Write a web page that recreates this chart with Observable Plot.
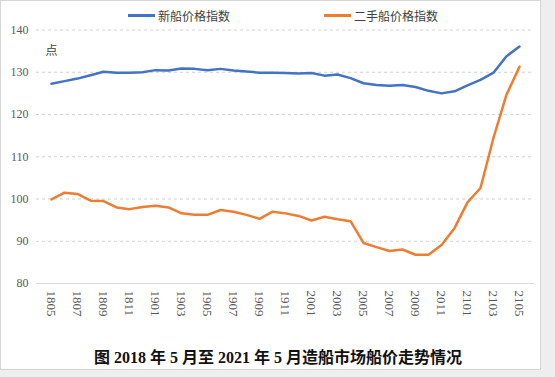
<!DOCTYPE html>
<html>
<head>
<meta charset="utf-8">
<script src="https://cdn.jsdelivr.net/npm/d3@7"></script>
<script src="https://cdn.jsdelivr.net/npm/@observablehq/plot@0.6"></script>
<style>
  html, body { margin: 0; padding: 0; background: #eeeeee; }
  #wrap { position: relative; width: 555px; height: 377px; background: #eeeeee; overflow: hidden; }
  #panel { position: absolute; left: 0; top: 0; width: 539px; height: 368px; background: #fff; border: 1px solid #d6d6d6; }
  #legend { position: relative; height: 22px; font-family: "Noto Sans CJK SC", sans-serif; font-size: 12px; color: #404040; }
  .item { position: absolute; top: 4px; display: flex; align-items: center; height: 20px; white-space: nowrap; }
  .sw { display: inline-block; width: 27px; height: 3px; margin-right: 3px; }
  #chart svg { display: block; }
  #caption { text-align: center; padding-left: 15px; font-family: "Liberation Serif", "Noto Sans CJK SC", serif; font-weight: bold; font-size: 16px; line-height: 30px; color: #111; }
</style>
</head>
<body>
<div id="wrap">
  <div id="panel">
    <div id="legend"></div>
    <div id="chart"></div>
    <div id="caption"></div>
  </div>
</div>
<script>
const months = ["1805","1806","1807","1808","1809","1810","1811","1812",
  "1901","1902","1903","1904","1905","1906","1907","1908","1909","1910","1911","1912",
  "2001","2002","2003","2004","2005","2006","2007","2008","2009","2010","2011","2012",
  "2101","2102","2103","2104","2105"];
const newShip = [127.3, 127.9, 128.5, 129.3, 130.1, 129.9, 129.9, 130.0, 130.5, 130.4,
  130.9, 130.8, 130.5, 130.8, 130.4, 130.2, 129.9, 129.9, 129.8, 129.7,
  129.8, 129.2, 129.45, 128.6, 127.4, 127.0, 126.8, 127.0, 126.5, 125.6,
  125.0, 125.5, 126.9, 128.2, 129.9, 133.8, 136.1];
const usedShip = [99.9, 101.5, 101.2, 99.6, 99.5, 98.0, 97.6, 98.1, 98.4, 98.0,
  96.6, 96.3, 96.25, 97.4, 97.0, 96.25, 95.3, 97.0, 96.6, 96.0,
  94.9, 95.8, 95.2, 94.75, 89.6, 88.6, 87.7, 88.05, 86.8, 86.8,
  89.1, 93.1, 99.2, 102.6, 114.5, 124.7, 131.3];
const seriesNames = ["新船价格指数", "二手船价格指数"];
const seriesColors = ["#4472C4", "#ED7D31"];
const yTicks = [80, 90, 100, 110, 120, 130, 140];
const unitLabel = "点";
const captionText = "图 2018 年 5 月至 2021 年 5 月造船市场船价走势情况";

const rows = [];
months.forEach((m, i) => {
  rows.push({month: m, value: newShip[i], series: seriesNames[0]});
  rows.push({month: m, value: usedShip[i], series: seriesNames[1]});
});

const legend = document.getElementById("legend");
const legendX = [127, 323];
seriesNames.forEach((name, i) => {
  const it = document.createElement("div");
  it.className = "item";
  it.style.left = legendX[i] + "px";
  it.innerHTML = `<span class="sw" style="background:${seriesColors[i]}"></span><span>${name}</span>`;
  legend.appendChild(it);
});

const chart = Plot.plot({
  width: 539,
  height: 320,
  marginLeft: 35,
  marginRight: 6,
  marginTop: 6.5,
  marginBottom: 60,
  style: {fontFamily: "Liberation Serif, serif", fontSize: "12px", color: "#595959", background: "transparent"},
  x: {type: "point", domain: months, padding: 0.5, label: null},
  y: {domain: [80, 140], label: null},
  color: {domain: seriesNames, range: seriesColors},
  marks: [
    Plot.gridY(yTicks.filter(t => t > 80), {stroke: "#d0d0d0", strokeOpacity: 1, strokeDasharray: "3,3"}),
    Plot.ruleY([80], {stroke: "#d9d9d9", strokeWidth: 1}),
    Plot.axisY(yTicks, {tickSize: 0, tickPadding: 8, fill: "#595959", fontSize: 12}),
    Plot.axisX(months.filter((d, i) => i % 2 === 0), {tickSize: 0, tickPadding: 7, tickRotate: 90, fill: "#595959", fontSize: 13}),
    Plot.lineY(rows, {x: "month", y: "value", stroke: "series", strokeWidth: 2.5, strokeLinejoin: "round", strokeLinecap: "round"}),
    Plot.text([unitLabel], {frameAnchor: "top-left", dx: 9, dy: 16, fontFamily: "Noto Sans CJK SC", fontSize: 12, fill: "#404040"})
  ]
});
document.getElementById("chart").appendChild(chart);
document.getElementById("caption").textContent = captionText;
</script>
</body>
</html>
